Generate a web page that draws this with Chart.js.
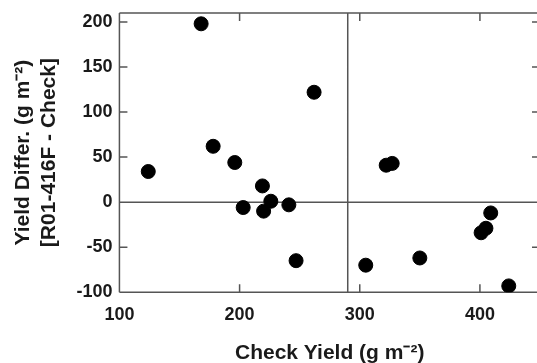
<!DOCTYPE html>
<html>
<head>
<meta charset="utf-8">
<script src="https://cdn.jsdelivr.net/npm/chart.js@4.4.1/dist/chart.umd.min.js"></script>
<style>
  html, body { margin: 0; padding: 0; background: #fff; overflow: hidden; }
  #wrap { width: 552px; height: 363px; position: relative; }
</style>
</head>
<body>
<div id="wrap"><canvas id="yieldChart"></canvas></div>
<script>
// values
const checkYield = [124, 168, 178, 196, 203, 219, 220, 226, 241, 247, 262, 305, 322, 327, 350, 401, 405, 409, 424];
const yieldDiff  = [34, 198, 62, 44, -6, 18, -10, 1, -3, -65, 122, -70, 41, 43, -62, -34, -29, -12, -93];
const xTicks = [100, 200, 300, 400];
const yTicks = [-100, -50, 0, 50, 100, 150, 200];
const refX = 290; // vertical reference line
const refY = 0;   // horizontal reference line

const ink = '#1a1a1a';
const axisGray = '#555';
const fam = 'Liberation Sans, Arial, sans-serif';

// frame, inward ticks and the two reference lines
const framePlugin = {
    id: 'frame',
    beforeDatasetsDraw(chart) {
        const { ctx, chartArea: a, scales: { x, y } } = chart;
        const len = 8;
        ctx.save();
        ctx.strokeStyle = axisGray;
        ctx.lineWidth = 1.5;
        ctx.beginPath();
        // box
        ctx.moveTo(a.left, a.top); ctx.lineTo(a.right, a.top);
        ctx.moveTo(a.left, a.top); ctx.lineTo(a.left, a.bottom);
        ctx.moveTo(a.left, a.bottom); ctx.lineTo(a.right, a.bottom);
        ctx.moveTo(a.right, a.top); ctx.lineTo(a.right, a.bottom);
        // ticks
        xTicks.forEach(v => {
            const px = x.getPixelForValue(v);
            ctx.moveTo(px, a.bottom); ctx.lineTo(px, a.bottom - len);
            ctx.moveTo(px, a.top); ctx.lineTo(px, a.top + len);
        });
        yTicks.forEach(v => {
            const py = y.getPixelForValue(v);
            ctx.moveTo(a.left, py); ctx.lineTo(a.left + len, py);
            ctx.moveTo(a.right, py); ctx.lineTo(a.right - len, py);
        });
        // reference lines
        const zx = x.getPixelForValue(refX);
        ctx.moveTo(zx, a.top); ctx.lineTo(zx, a.bottom);
        const zy = y.getPixelForValue(refY);
        ctx.moveTo(a.left, zy); ctx.lineTo(a.right, zy);
        ctx.stroke();
        ctx.restore();
    }
};

document.addEventListener("DOMContentLoaded", () => {
    const ctx = document.getElementById('yieldChart').getContext('2d');
    new Chart(ctx, {
        type: 'scatter',
        data: {
            datasets: [{
                data: checkYield.map((v, i) => ({ x: v, y: yieldDiff[i] })),
                backgroundColor: '#000',
                borderColor: '#000',
                pointRadius: 7,
                pointHoverRadius: 7
            }]
        },
        options: {
            responsive: true,
            maintainAspectRatio: false,
            animation: false,
            layout: { padding: { top: 13, right: 12, left: 7, bottom: -3 } },
            plugins: {
                legend: { display: false },
                tooltip: { enabled: false }
            },
            scales: {
                x: {
                    type: 'linear',
                    min: 100,
                    max: 450,
                    afterBuildTicks: s => { s.ticks = xTicks.map(v => ({ value: v })); },
                    grid: { display: false, drawTicks: false },
                    border: { display: false },
                    ticks: {
                        color: ink,
                        padding: 12,
                        font: { family: fam, size: 18, weight: 'bold' }
                    },
                    title: {
                        display: true,
                        text: 'Check Yield (g m⁻²)',
                        color: ink,
                        padding: { top: 3, bottom: 0 },
                        font: { family: fam, size: 21, weight: 'bold' }
                    }
                },
                y: {
                    type: 'linear',
                    min: -100,
                    max: 210,
                    afterBuildTicks: s => { s.ticks = yTicks.map(v => ({ value: v })); },
                    afterFit: s => { s.paddingTop = 0; },
                    grid: { display: false, drawTicks: false },
                    border: { display: false },
                    ticks: {
                        color: ink,
                        padding: 7,
                        font: { family: fam, size: 18, weight: 'bold' }
                    },
                    title: {
                        display: true,
                        text: ['Yield Differ. (g m⁻²)', '[R01-416F - Check]'],
                        color: ink,
                        padding: { top: 4, bottom: 8 },
                        font: { family: fam, size: 21, weight: 'bold', lineHeight: 1.2 }
                    }
                }
            }
        },
        plugins: [framePlugin]
    });
});
</script>
</body>
</html>
